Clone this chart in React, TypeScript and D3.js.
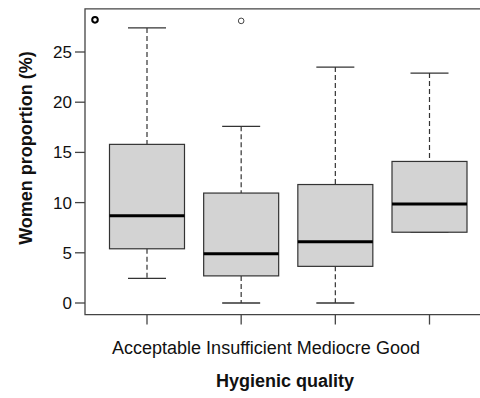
import React from "react";
import * as d3 from "d3";

const categories = ["Acceptable", "Insufficient", "Mediocre", "Good"];
const lowerWhisker = [2.45, 0, 0, 7.05];
const q1 = [5.4, 2.7, 3.65, 7.05];
const medians = [8.7, 4.9, 6.1, 9.85];
const q3 = [15.8, 10.95, 11.8, 14.1];
const upperWhisker = [27.4, 17.6, 23.5, 22.9];
// outliers: [category index, value, count]
const outliers: [number, number, number][] = [
  [0, 28.2, 3],
  [1, 28.1, 1],
];
const yTicks = [0, 5, 10, 15, 20, 25];

const W = 480;
const H = 398;

export default function App() {
  const x = d3.scalePoint<string>().domain(categories).range([147, 429.5]);
  const y = d3.scaleLinear().domain([0, 25]).range([303, 52]);
  const boxW = 75;
  const capW = 38;
  const line = "#333";
  const frameLeft = 85;
  const frameTop = y(29.3);
  const frameBottom = y(-1.15);

  return (
    <svg
      width={W}
      height={H}
      style={{ position: "absolute", left: 0, top: 0, background: "#fff" }}
      fontFamily="'Liberation Sans', Arial, sans-serif"
    >
      {/* frame */}
      <path
        d={`M${W + 10},${frameTop}H${frameLeft}V${frameBottom}H${W + 10}`}
        fill="none"
        stroke="#444"
        strokeWidth={1.3}
      />
      {/* y axis ticks */}
      {yTicks.map((t) => (
        <g key={t}>
          <line x1={75} x2={frameLeft} y1={y(t)} y2={y(t)} stroke="#444" strokeWidth={1.3} />
          <text x={72} y={y(t)} dy="0.35em" textAnchor="end" fontSize={17} fill="#111">
            {t}
          </text>
        </g>
      ))}
      {/* x axis ticks */}
      {categories.map((c) => (
        <line key={c} x1={x(c)} x2={x(c)} y1={frameBottom} y2={frameBottom + 10} stroke="#444" strokeWidth={1.3} />
      ))}
      {/* boxes */}
      {categories.map((c, i) => {
        const cx = x(c)!;
        return (
          <g key={c}>
            <line x1={cx} x2={cx} y1={y(upperWhisker[i])} y2={y(q3[i])} stroke={line} strokeWidth={1.2} strokeDasharray="5,3" />
            <line x1={cx} x2={cx} y1={y(q1[i])} y2={y(lowerWhisker[i])} stroke={line} strokeWidth={1.2} strokeDasharray="5,3" />
            <line x1={cx - capW / 2} x2={cx + capW / 2} y1={y(upperWhisker[i])} y2={y(upperWhisker[i])} stroke={line} strokeWidth={1.3} />
            <line x1={cx - capW / 2} x2={cx + capW / 2} y1={y(lowerWhisker[i])} y2={y(lowerWhisker[i])} stroke={line} strokeWidth={1.3} />
            <rect
              x={cx - boxW / 2}
              y={y(q3[i])}
              width={boxW}
              height={y(q1[i]) - y(q3[i])}
              fill="#d3d3d3"
              stroke={line}
              strokeWidth={1.2}
            />
            <line x1={cx - boxW / 2} x2={cx + boxW / 2} y1={y(medians[i])} y2={y(medians[i])} stroke="#000" strokeWidth={3} />
          </g>
        );
      })}
      {/* outliers */}
      {outliers.map(([ci, v, n], k) => (
        <circle
          key={k}
          cx={x(categories[ci])! - (n > 1 ? 52 : 0)}
          cy={y(v)}
          r={2.8}
          fill="none"
          stroke={n > 1 ? "#000" : "#444"}
          strokeWidth={n > 1 ? 2 : 1}
        />
      ))}
      {/* category labels */}
      <text x={266} y={354} textAnchor="middle" fontSize={18} fill="#111">
        {categories.join(" ")}
      </text>
      <text x={285} y={387} textAnchor="middle" fontSize={18} fontWeight="bold" fill="#111">
        Hygienic quality
      </text>
      <text
        transform={`translate(32,${148}) rotate(-90)`}
        textAnchor="middle"
        fontSize={18}
        fontWeight="bold"
        fill="#111"
      >
        Women proportion (%)
      </text>
    </svg>
  );
}
